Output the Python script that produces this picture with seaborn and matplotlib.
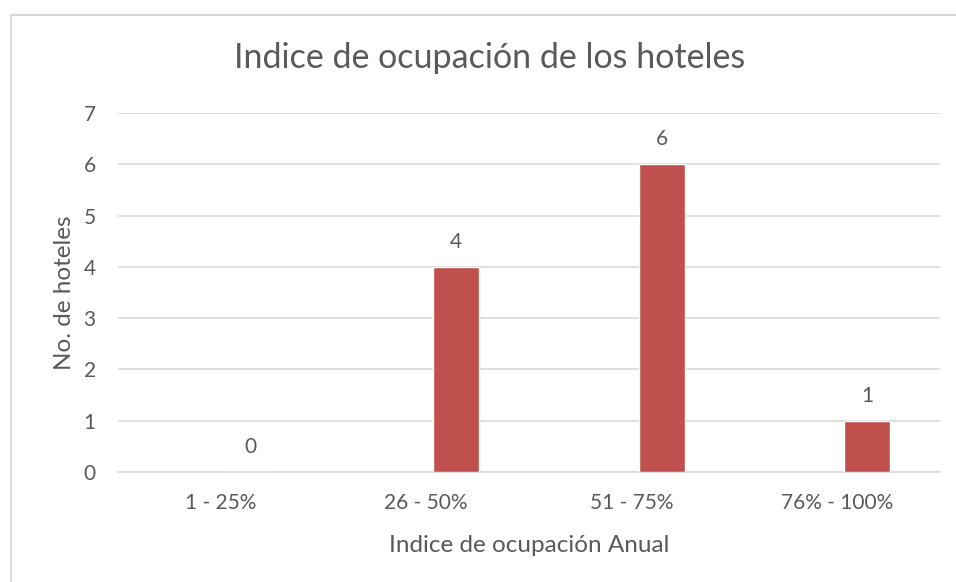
import matplotlib
matplotlib.use("Agg")
import matplotlib.pyplot as plt
from matplotlib.lines import Line2D
import seaborn as sns
import pandas as pd

# Data
categorias = ["1 - 25%", "26 - 50%", "51 - 75%", "76% - 100%"]
hoteles = [0, 4, 6, 1]

titulo = "Indice de ocupación de los hoteles"
x_label = "Indice de ocupación Anual"
y_label = "No. de hoteles"

sns.set_theme(style="white")
plt.rcParams["font.family"] = ["Lato", "DejaVu Sans"]

GRIS = "#595959"
LINEA = "#d9d9d9"
ROJO = "#c0504d"

df = pd.DataFrame({"categoria": categorias, "hoteles": hoteles})

fig = plt.figure(figsize=(9.56, 5.82), dpi=100)
ax = fig.add_axes([118 / 956, 1 - 472 / 582, (940 - 118) / 956, (472 - 113) / 582])

sns.barplot(data=df, x="categoria", y="hoteles", color=ROJO, width=0.224,
            saturation=1, ax=ax, zorder=3)

# Excel-like offset of the bar within each category
offset = 0.146
for p in ax.patches:
    p.set_x(p.get_x() + offset)

for i, v in enumerate(hoteles):
    ax.annotate(str(v), (i + offset, v), xytext=(0, 18), textcoords="offset points",
                ha="center", va="center", fontsize=15, color=GRIS)

ax.set_ylim(0, 7)
ax.set_xlim(-0.5, len(categorias) - 0.5)
ax.set_yticks(range(0, 8))
ax.yaxis.grid(True, color=LINEA, linewidth=1.2, zorder=0)
ax.tick_params(axis="both", length=0, labelsize=15, colors=GRIS)
ax.tick_params(axis="x", pad=15)
ax.tick_params(axis="y", pad=16)
for s in ["top", "right", "left"]:
    ax.spines[s].set_visible(False)
ax.spines["bottom"].set_color(LINEA)
ax.spines["bottom"].set_linewidth(1.2)

ax.set_xlabel(x_label, fontsize=17.5, color=GRIS, labelpad=16)
ax.set_ylabel(y_label, fontsize=17.5, color=GRIS, labelpad=6)
fig.text(490 / 956, 1 - 58 / 582, titulo, ha="center", va="center",
         fontsize=24.5, color=GRIS)

# Chart frame (left and top edges visible)
fx, fy = 10.5 / 956, 1 - 14.5 / 582
fig.add_artist(Line2D([fx, fx], [0, fy], transform=fig.transFigure,
                      color=LINEA, linewidth=1.5))
fig.add_artist(Line2D([fx, 1], [fy, fy], transform=fig.transFigure,
                      color=LINEA, linewidth=1.5))

fig.savefig("out.png", dpi=100, facecolor="white")
